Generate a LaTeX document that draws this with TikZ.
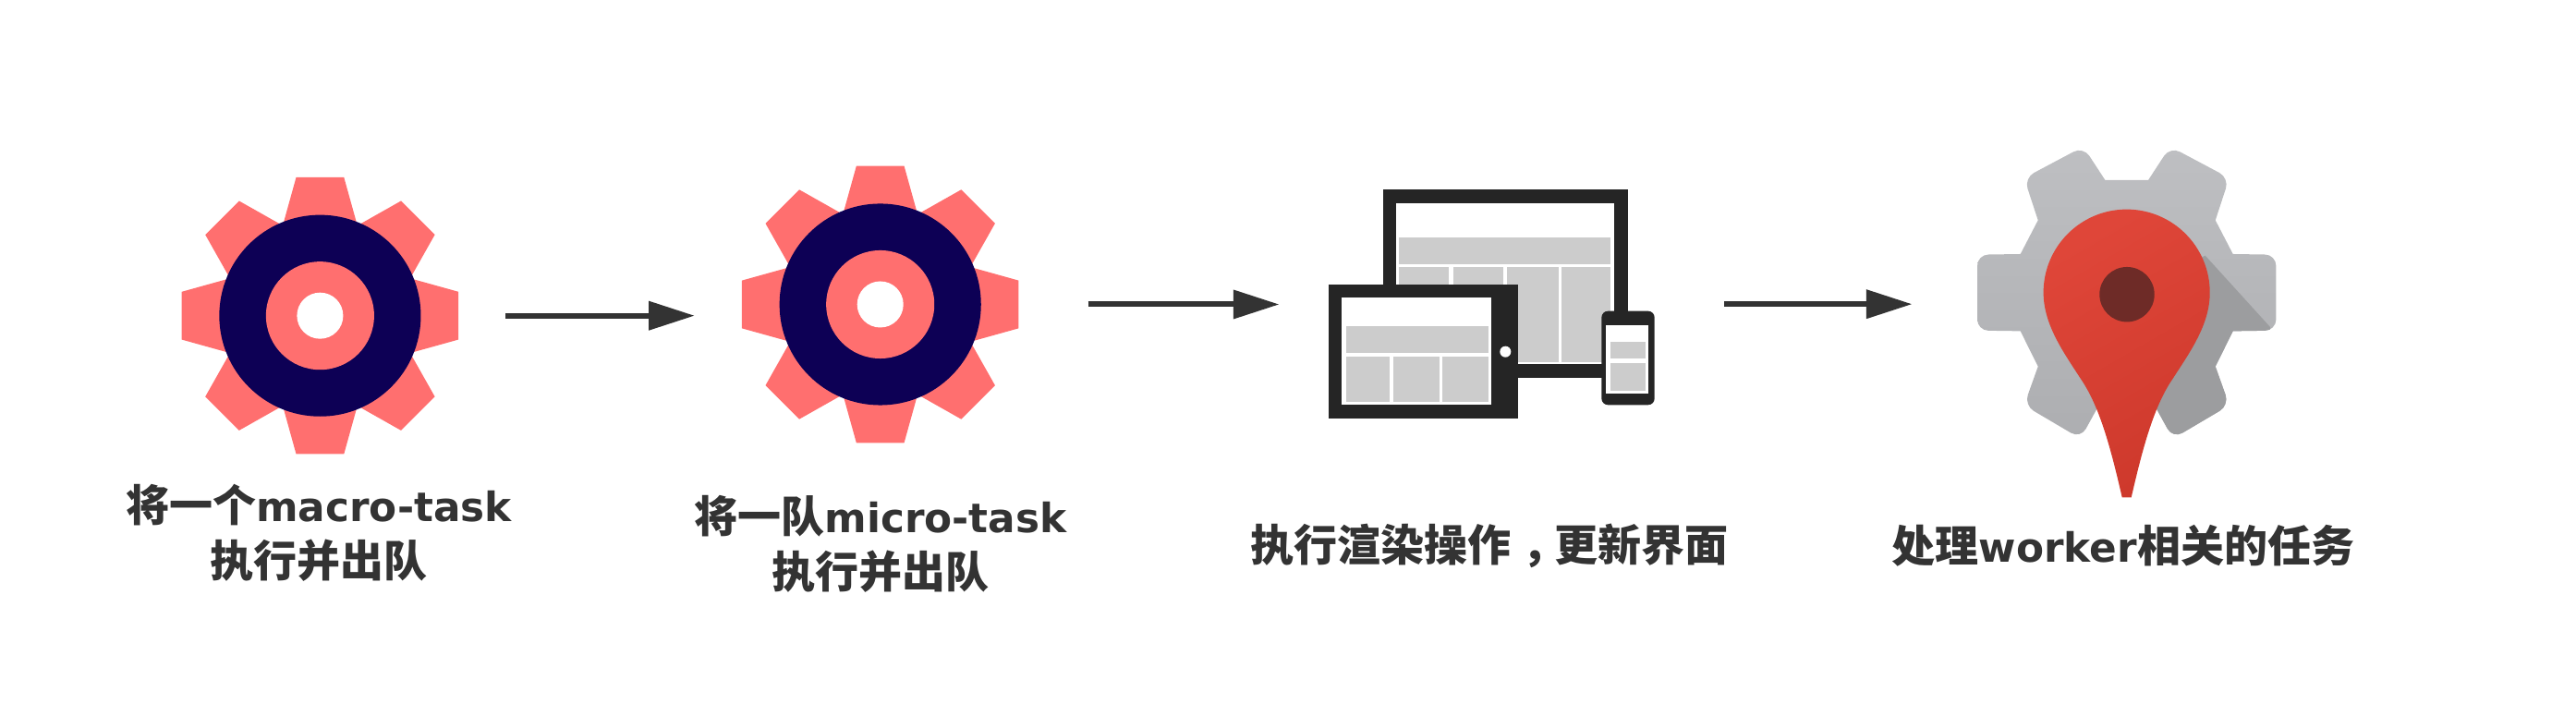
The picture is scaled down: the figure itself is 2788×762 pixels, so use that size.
\documentclass[tikz,border=0pt]{standalone}
\usepackage{fontspec}
\usepackage{xcolor}
\usetikzlibrary{arrows.meta}
\newfontfamily\cjkfont{Noto Sans CJK SC}
\newfontfamily\latinfont[Scale=0.93]{DejaVu Sans}
\definecolor{gearpink}{HTML}{FF6F6F}
\definecolor{gearnavy}{HTML}{0D0055}
\definecolor{inkgrey}{HTML}{333333}
\definecolor{devdark}{HTML}{252525}
\definecolor{devcell}{HTML}{CCCCCC}
\definecolor{loclight}{HTML}{BEBFC2}
\definecolor{locmid}{HTML}{ADAEB1}
\definecolor{locshadow}{HTML}{9C9D9F}
\definecolor{pinlight}{HTML}{DF4639}
\definecolor{pindark}{HTML}{CE392C}
\definecolor{pinhole}{HTML}{6E2B27}
\tikzset{
  iconbox/.style={inner sep=0pt, outer sep=0pt},
  steplabel/.style={inner sep=0pt, align=center, text=inkgrey,
    font=\fontsize{13.37pt}{17.07pt}\selectfont\cjkfont\bfseries},
  flowarrow/.style={line width=0.06cm, draw=inkgrey,
    -{Stealth[length=\l, width=\w, inset=0pt, line width=0pt]}}
}
\begin{document}
\begin{tikzpicture}[x=0.01cm,y=-0.01cm]
\def\l{0.49cm}
\def\w{0.32cm}
\useasboundingbox (0,0) rectangle (2788,762);
\node [iconbox, minimum size=3.02cm, name=gear1]      at (346.4,341.7) {};
\node [iconbox, minimum size=3.02cm, name=gear2]      at (952.7,329.5) {};
\node [iconbox, minimum width=3.524cm, minimum height=2.483cm, name=devices] at (1614.5,329.2) {};
\node [iconbox, minimum width=3.234cm, minimum height=3.06cm, name=locator]  at (2301.7,316.7) {};
\foreach \g in {gear1,gear2}{
  \begin{scope}[shift={(\g)}]
    \foreach \a in {0,45,...,315}
      \fill [gearpink] (\a-21.5:108) -- (\a-9.8:152) -- (\a+9.8:152) -- (\a+21.5:108) -- (\a:80) -- cycle;
    \fill [gearnavy] (0,0) circle [radius=1.09cm];
    \fill [gearpink] (0,0) circle [radius=0.585cm];
    \fill [white] (0,0) circle [radius=0.25cm];
  \end{scope}
}
% monitor
\fill [devdark] (1496.7,205) rectangle (1761.7,409.3);
\fill [white] (1510.7,220) rectangle (1746.7,394);
\fill [devcell] (1514,257.3) rectangle (1743.3,285.7);
\fill [devcell] (1514,289) rectangle (1568.3,391.7);
\fill [devcell] (1572.7,289) rectangle (1627.3,391.7);
\fill [devcell] (1630.7,289) rectangle (1686.7,391.7);
\fill [devcell] (1690,289) rectangle (1743.3,391.7);
% tablet
\fill [devdark] (1438.3,307.7) rectangle (1642.7,453.3);
\fill [white] (1451.7,321.7) rectangle (1614.3,438.3);
\fill [devcell] (1456.7,353.3) rectangle (1611,381.7);
\fill [devcell] (1456.7,385.7) rectangle (1504,435);
\fill [devcell] (1508.3,385.7) rectangle (1557.7,435);
\fill [devcell] (1561,385.7) rectangle (1611,435);
\fill [white] (1629.3,380.7) circle [radius=0.06cm];
% phone
\fill [devdark, rounded corners=0.07cm] (1733.3,336.7) rectangle (1790.7,438.3);
\fill [white] (1738.3,351.7) rectangle (1784.3,426);
\fill [devcell] (1742.7,370) rectangle (1781,388.3);
\fill [devcell] (1742.7,392.7) rectangle (1781,423.3);
% locator
\begin{scope}[shift={(locator)}]
  \def\locgear{(23.3,-121.7) [rounded corners=0.12cm] -- (47,-158) -- (111,-124)
    [sharp corners] -- (96,-78.3) -- (115,-41.7) [rounded corners=0.12cm] -- (161.7,-41) -- (161.7,41)
    [sharp corners] -- (115,41.7) -- (96,80) [rounded corners=0.12cm] -- (111,122) -- (50,158)
    [sharp corners] -- (30,121.7) -- (-30,121.7) [rounded corners=0.12cm] -- (-50,158) -- (-111,122)
    [sharp corners] -- (-96,80) -- (-115,41.7) [rounded corners=0.12cm] -- (-161.7,41) -- (-161.7,-41)
    [sharp corners] -- (-115,-41.7) -- (-96,-78.3) [rounded corners=0.12cm] -- (-111,-124) -- (-47,-158)
    [sharp corners] -- (-23.3,-121.7) -- cycle}
  \shade [top color=loclight, bottom color=locmid] \locgear;
  \begin{scope}
    \clip \locgear;
    \fill [locshadow] (85,-40) -- (155,37) -- (175,170) -- (0,170) -- (0,0) -- cycle;
  \end{scope}
  \shade [left color=pinlight, right color=pindark, shading angle=30]
    (90,0) arc [start angle=0, end angle=180, radius=0.9cm]
    .. controls (-90,35) and (-68,65) .. (-50,93)
    .. controls (-30,122) and (-18,165) .. (-5,221.7)
    -- (5,221.7)
    .. controls (18,165) and (30,122) .. (50,93)
    .. controls (68,65) and (90,35) .. (90,0) -- cycle;
  \fill [pinhole] (0.3,2) circle [radius=0.297cm];
\end{scope}
\draw [flowarrow, shorten <=0.499cm, shorten >=0.504cm] (gear1.east) -- (gear1.east -| gear2.west);
\draw [flowarrow, shorten <=0.738cm, shorten >=0.543cm] (gear2.east) -- (gear2.east -| devices.west);
\draw [flowarrow, shorten <=0.753cm, shorten >=0.71cm] (devices.east) -- (devices.east -| locator.west);
\node [steplabel, name=label1] at (345,576.5) {将一个{\latinfont macro-task}\\执行并出队};
\node [steplabel, name=label2] at (953,588.5) {将一队{\latinfont micro-task}\\执行并出队};
\node [steplabel, name=label3] at (1612,590.5) {执行渲染操作\kern.25em，\kern-.25em更新界面};
\node [steplabel, name=label4] at (2298,590.5) {处理{\latinfont worker}相关的任务};
\end{tikzpicture}
\end{document}
